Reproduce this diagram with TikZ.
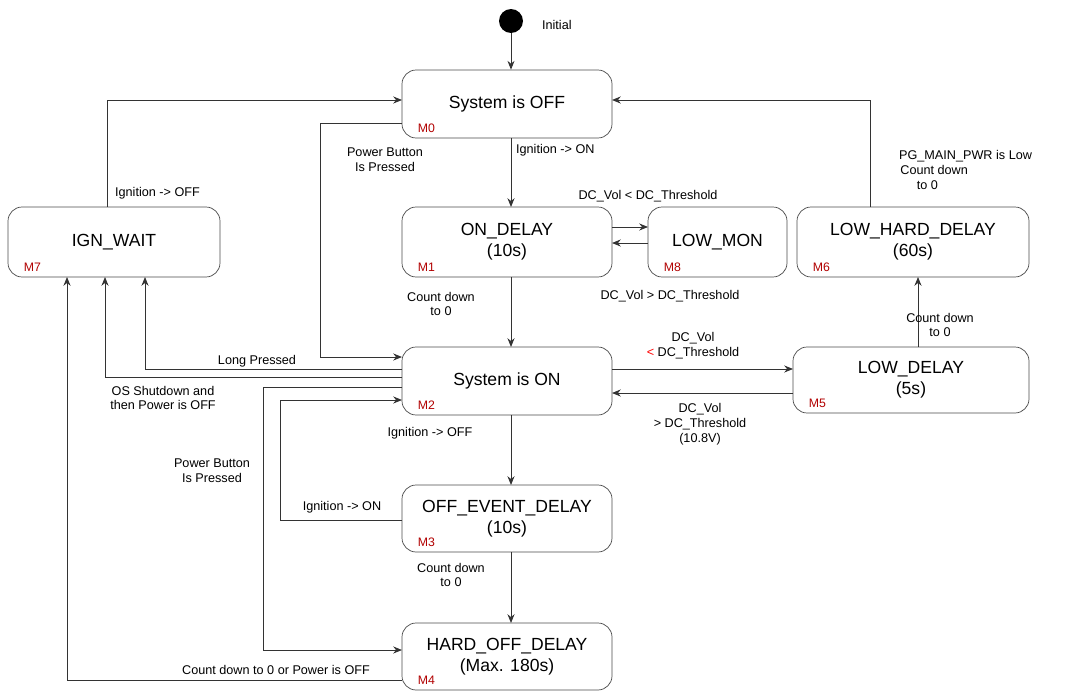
\documentclass[tikz,border=0pt]{standalone}
\usepackage{fontspec}
\setmainfont{Liberation Sans}
\usetikzlibrary{arrows.meta}
\begin{document}
\begin{tikzpicture}[x=0.02cm,y=-0.02cm,
 st/.style={draw=black!70,rounded corners=8pt,fill=white,font=\fontsize{10}{12}\selectfont,align=center,inner sep=0pt},
 mk/.style={text=red!70!black,font=\fontsize{7}{8}\selectfont,anchor=south west,inner sep=1pt,xshift=8pt,yshift=2pt},
 lb/.style={font=\fontsize{7.2}{8.5}\selectfont,align=center,inner sep=1pt},
 ar/.style={-{Stealth[length=5pt,width=4pt]},draw=black!80,line width=0.5pt}]
\useasboundingbox (0,0) rectangle (1076,693);
\newcommand{\st}[6]{\node[st,minimum width={(#4-#2)*0.02cm},minimum height={(#5-#3)*0.02cm}] (#1) at ({(#2+#4)/2},{(#3+#5)/2}) {#6};}
\st{m0}{402}{70}{612}{138}{System is OFF}
\st{m1}{402}{207}{612}{277}{ON\_DELAY\\(10s)}
\st{m8}{648}{207}{787}{277}{LOW\_MON}
\st{m6}{797}{207}{1029}{277}{LOW\_HARD\_DELAY\\(60s)}
\st{m7}{8}{207}{220}{277}{IGN\_WAIT}
\st{m2}{402}{347}{612}{415}{System is ON}
\st{m5}{793}{347}{1029}{413}{LOW\_DELAY\\(5s)}
\st{m3}{402}{485}{612}{552}{OFF\_EVENT\_DELAY\\(10s)}
\st{m4}{402}{623}{612}{690}{HARD\_OFF\_DELAY\\(Max. 180s)}
\node[mk] at (m0.south west) {M0};
\node[mk] at (m1.south west) {M1};
\node[mk] at (m8.south west) {M8};
\node[mk] at (m6.south west) {M6};
\node[mk] at (m7.south west) {M7};
\node[mk] at (m2.south west) {M2};
\node[mk] at (m5.south west) {M5};
\node[mk] at (m3.south west) {M3};
\node[mk] at (m4.south west) {M4};
\node[circle,fill=black,minimum size=0.48cm,inner sep=0pt] (ini) at (511,21) {};
\node[lb,anchor=west] at (540,25) {Initial};
\draw[ar] (ini) -- (ini|-m0.north);
% M7 -> M0
\draw[ar] (107,207) -- (107,100) -- (402,100);
\node[lb,anchor=west] at (113,193) {Ignition -> OFF};
% M0 -> M2 power button
\draw[ar] (402,123) -- (320,123) -- (320,357) -- (402,357);
\node[lb] at (385,160) {Power Button\\Is Pressed};
% M0 -> M1
\draw[ar] (511,138) -- (511,207);
\node[lb,anchor=west] at (514,150) {Ignition -> ON};
% M1 <-> M8
\draw[ar] (612,227) -- (648,227);
\draw[ar] (648,243) -- (612,243);
\node[lb] at (648,196) {DC\_Vol < DC\_Threshold};
\node[lb] at (670,296) {DC\_Vol > DC\_Threshold};
% M6 -> M0
\draw[ar] (870,207) -- (870,100) -- (612,100);
\node[lb,align=left,anchor=north west] at (897,148) {PG\_MAIN\_PWR is Low\\\hspace*{0.1em}Count down\\\hspace*{1.4em}to 0};
% M1 -> M2
\draw[ar] (511,277) -- (511,347);
\node[lb] at (441,304) {Count down\\to 0};
% M2 <-> M5
\draw[ar] (612,369) -- (793,369);
\draw[ar] (793,393) -- (612,393);
\node[lb] at (693,346) {DC\_Vol\\\textcolor{red}{<} DC\_Threshold};
\node[lb] at (700,424) {DC\_Vol\\> DC\_Threshold\\(10.8V)};
% M5 -> M6
\draw[ar] (918,347) -- (918,277);
\node[lb] at (940,325) {Count down\\to 0};
% M2 -> M7
\draw[ar] (402,369) -- (145,369) -- (145,277);
\node[lb] at (257,361) {Long Pressed};
\draw[ar] (402,377) -- (105,377) -- (105,277);
\node[lb] at (163,398) {OS Shutdown and\\then Power is OFF};
% M2 -> M3
\draw[ar] (511,415) -- (511,485);
\node[lb] at (430,433) {Ignition -> OFF};
% M3 -> M2
\draw[ar] (402,520) -- (280,520) -- (280,400) -- (402,400);
\node[lb] at (342,507) {Ignition -> ON};
% M2 -> M4
\draw[ar] (402,387) -- (263,387) -- (263,650) -- (402,650);
\node[lb] at (212,471) {Power Button\\Is Pressed};
% M3 -> M4
\draw[ar] (511,552) -- (511,623);
\node[lb] at (451,575) {Count down\\to 0};
% M4 -> M7
\draw[ar] (402,680) -- (67,680) -- (67,277);
\node[lb] at (276,670) {Count down to 0 or Power is OFF};
\end{tikzpicture}
\end{document}
